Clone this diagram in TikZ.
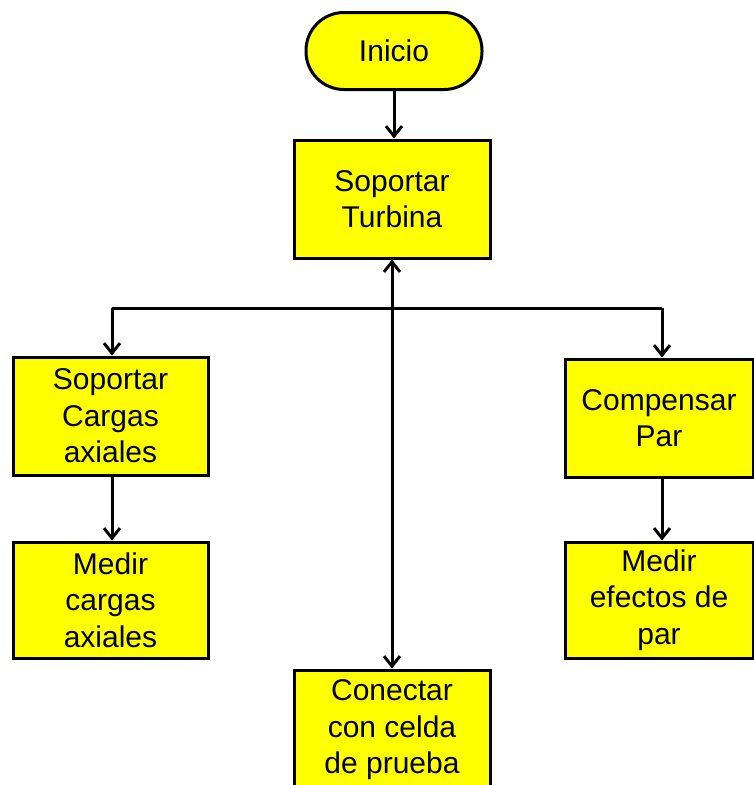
\documentclass[tikz,border=0pt]{standalone}
\usepackage{fontspec}
\setmainfont{Liberation Sans}
\usetikzlibrary{arrows.meta}
\definecolor{boxyellow}{RGB}{255,255,0}
\begin{document}
\begin{tikzpicture}[x=1pt,y=-1pt,
  box/.style={draw=black, line width=3pt, fill=boxyellow, rectangle, align=center,
    inner sep=0pt, font=\fontsize{30}{36.5}\selectfont},
  conn/.style={draw=black, line width=3pt},
  arr/.style={conn, -{Straight Barb[length=10pt,width=16pt]}},
  darr/.style={conn, {Straight Barb[length=10pt,width=16pt]}-{Straight Barb[length=10pt,width=16pt]}}]
\useasboundingbox (0,0) rectangle (754,785);
\clip (0,0) rectangle (754,785);
\node[box, rounded corners=38pt, minimum width=176pt, minimum height=77pt] (ini) at (394,51) {Inicio};
\node[box, minimum width=196pt, minimum height=118pt] (turb) at (392,199) {Soportar\\Turbina};
\node[box, minimum width=195pt, minimum height=118pt] (carg) at (110.5,416) {Soportar\\Cargas\\axiales};
\node[box, minimum width=195pt, minimum height=116pt] (mcarg) at (110.5,600) {Medir\\cargas\\axiales};
\node[box, minimum width=188pt, minimum height=118pt] (comp) at (659,418) {Compensar\\Par};
\node[box, minimum width=188pt, minimum height=116pt] (mpar) at (659,600) {Medir\\efectos de\\par};
\node[box, minimum width=196pt, minimum height=120pt] (conec) at (392,730) {Conectar\\con celda\\de prueba};
\coordinate (jL) at (112,308);
\coordinate (jR) at (662,308);
\draw[arr] (ini.south) -- (ini.south |- turb.north);
\draw[conn] (jL) -- (jR);
\draw[arr] (jL) -- (jL |- carg.north);
\draw[arr] (jR) -- (jR |- comp.north);
\draw[arr] (carg.south -| jL) -- (jL |- mcarg.north);
\draw[arr] (comp.south -| jR) -- (jR |- mpar.north);
\draw[darr] (turb.south) -- (conec.north);
\end{tikzpicture}
\end{document}
